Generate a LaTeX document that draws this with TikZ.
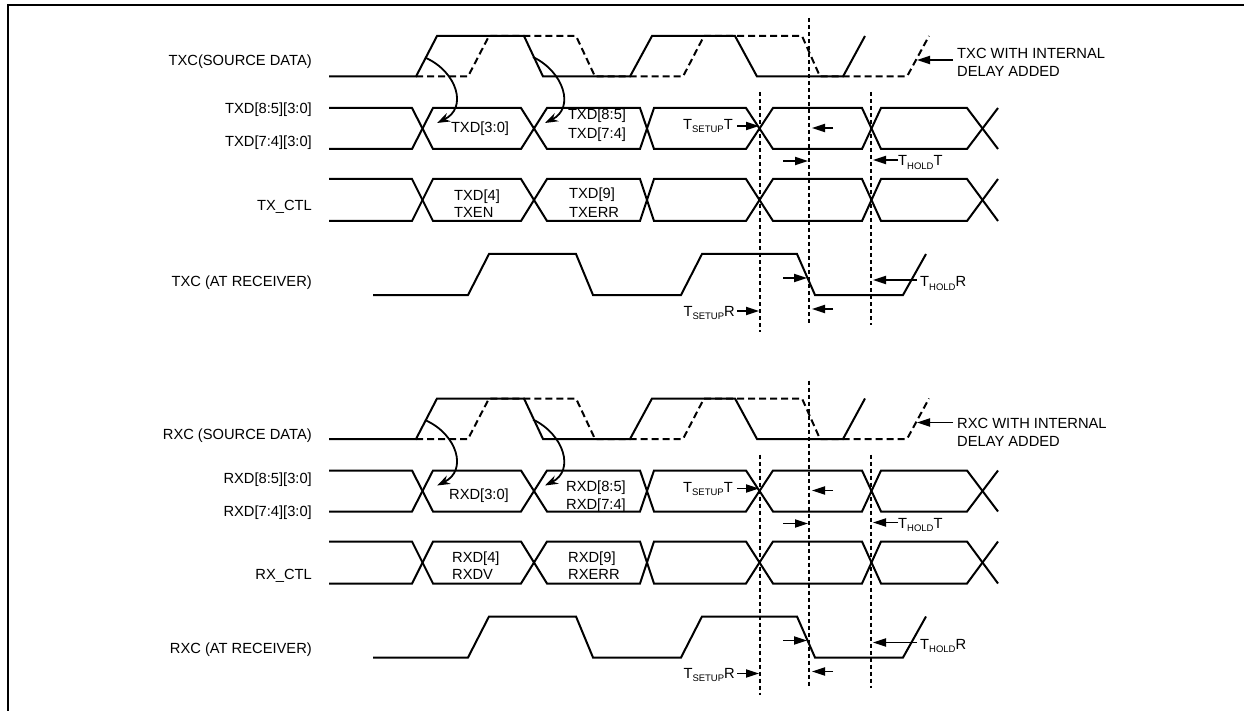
\documentclass[tikz,border=0pt]{standalone}
\usepackage{fontspec}
\setmainfont{Liberation Sans}
\usetikzlibrary{arrows.meta}
\newcommand\lblfont{\fontsize{14.7}{17}\selectfont}
\newcommand\subfnt{\fontsize{9.5}{10}\selectfont}
\newcommand\tsb[2]{T\raisebox{-3.2pt}{\subfnt #1}#2}
\tikzset{
  wave/.style={line width=2pt, line join=miter},
  dwave/.style={line width=2pt, dash pattern=on 7pt off 4pt},
  vguide/.style={line width=2pt, dash pattern=on 4pt off 3pt},
  lbl/.style={font=\lblfont, inner sep=0pt},
  tarr/.style={line width=1.8pt, -{Triangle[length=13pt,width=8pt]}},
  carr/.style={line width=1.8pt, -{Stealth[length=13pt,width=9pt]}},
}
\newcommand\drawbus[2]{%
  \draw[wave] (329,#1) -- (412,#1) -- (433,#2) -- (521,#2) -- (547,#1) -- (640,#1) -- (654,#2) -- (746,#2) -- (773,#1) -- (862,#1) -- (881,#2) -- (967,#2) -- (998,#1);
  \draw[wave] (329,#2) -- (412,#2) -- (433,#1) -- (521,#1) -- (547,#2) -- (640,#2) -- (654,#1) -- (746,#1) -- (773,#2) -- (862,#2) -- (881,#1) -- (967,#1) -- (998,#2);
}
\newcommand\waves{%
  % source clock (solid) and delayed clock (dashed)
  \draw[wave] (329,76.5) -- (416,76.5) -- (437,36) -- (524,36) -- (543,76.5) -- (630,76.5) -- (652,36) -- (735,36) -- (757,76.5) -- (843,76.5) -- (865,36);
  \draw[dwave] (416,76.5) -- (468,76.5) -- (489,36) -- (576,36) -- (595,76.5) -- (683,76.5) -- (704,36) -- (802,36) -- (820,76.5) -- (907,76.5) -- (929,36);
  % data bus and control
  \drawbus{108}{149}
  \drawbus{179}{221}
  % clock at receiver
  \draw[wave] (373,295) -- (468,295) -- (489,254) -- (576,254) -- (593,295) -- (681,295) -- (702,254) -- (797,254) -- (815,295) -- (903,295) -- (926,254);
  % guides
  \coordinate (g1t) at (760,92);  \coordinate (g1b) at (760,332);
  \coordinate (g2t) at (809,18);  \coordinate (g2b) at (809,325);
  \coordinate (g3t) at (871,92);  \coordinate (g3b) at (871,325);
  \draw[vguide] (g1t) -- (g1b);
  \draw[vguide] (g2t) -- (g2b);
  \draw[vguide] (g3t) -- (g3b);
  % curved launch arrows
  \coordinate (c1s) at (426,58);  \coordinate (c1e) at (437,123);
  \coordinate (c2s) at (533,57);  \coordinate (c2e) at (545,123);
  \draw[carr] (c1s) .. controls (457,72) and (468,108) .. (c1e);
  \draw[carr] (c2s) .. controls (564,72) and (575,108) .. (c2e);
  % delay pointer
  \coordinate (d1s) at (953,60); \coordinate (d1e) at (917,60);
  \draw[tarr] (d1s) -- (d1e);
  % setup / hold at transmitter
  \node[lbl, anchor=base east] (sT) at (733,129.5) {\tsb{SETUP}{T}};
  \coordinate (a1s) at (737,126); \coordinate (a1e) at (759,126);
  \draw[tarr] (a1s) -- (a1e);
  \coordinate (a2s) at (833,128); \coordinate (a2e) at (812,128);
  \draw[tarr] (a2s) -- (a2e);
  \coordinate (a3s) at (783,161); \coordinate (a3e) at (808,161);
  \draw[tarr] (a3s) -- (a3e);
  \coordinate (a4s) at (898,160); \coordinate (a4e) at (873,160);
  \draw[tarr] (a4s) -- (a4e);
  \node[lbl, anchor=base west] (hT) at (898,166) {\tsb{HOLD}{T}};
  % setup / hold at receiver
  \node[lbl, anchor=base east] (sR) at (735,316) {\tsb{SETUP}{R}};
  \coordinate (r1s) at (737,311); \coordinate (r1e) at (759,311);
  \draw[tarr] (r1s) -- (r1e);
  \coordinate (r2s) at (783,278); \coordinate (r2e) at (807,278);
  \draw[tarr] (r2s) -- (r2e);
  \coordinate (r3s) at (833,309); \coordinate (r3e) at (812,309);
  \draw[tarr] (r3s) -- (r3e);
  \coordinate (r4s) at (917,280); \coordinate (r4e) at (873,280);
  \draw[tarr] (r4s) -- (r4e);
  \node[lbl, anchor=base west] (hR) at (920,287) {\tsb{HOLD}{R}};
}
\begin{document}
\begin{tikzpicture}[x=1pt, y=-1pt]
  \useasboundingbox (0,0) rectangle (1244,711);
  % frame
  \draw[line width=2.8pt] (1244,5) -- (8,5) -- (8,711);

  % ---------- transmit section ----------
  \waves
  \node[lbl, anchor=base east] (l1) at (312,66) {TXC(SOURCE DATA)};
  \node[lbl, anchor=base east] (l2) at (312,113.5) {TXD[8:5][3:0]};
  \node[lbl, anchor=base east] (l3) at (312,147) {TXD[7:4][3:0]};
  \node[lbl, anchor=base east] (l4) at (312,211) {TX\_CTL};
  \node[lbl, anchor=base east] (l5) at (312,287) {TXC (AT RECEIVER)};
  \node[lbl, anchor=base] (t1) at (480,132.5) {TXD[3:0]};
  \node[lbl, anchor=base] (t2) at (597,119.5) {TXD[8:5]};
  \node[lbl, anchor=base] (t3) at (597,138.5) {TXD[7:4]};
  \node[lbl, anchor=base west] (t4) at (454,200.5) {TXD[4]};
  \node[lbl, anchor=base west] (t5) at (454,218) {TXEN};
  \node[lbl, anchor=base west] (t6) at (569,199) {TXD[9]};
  \node[lbl, anchor=base west] (t7) at (569,217.5) {TXERR};
  \node[lbl, anchor=base west] (t8) at (957,58.5) {TXC WITH INTERNAL};
  \node[lbl, anchor=base west] (t9) at (957,76.5) {DELAY ADDED};

  % ---------- receive section ----------
  \begin{scope}[shift={(0,362.5)}, name prefix=b-]
    \waves
  \end{scope}
  \node[lbl, anchor=base east] (m1) at (312,439) {RXC (SOURCE DATA)};
  \node[lbl, anchor=base east] (m2) at (312,483.5) {RXD[8:5][3:0]};
  \node[lbl, anchor=base east] (m3) at (312,516.5) {RXD[7:4][3:0]};
  \node[lbl, anchor=base east] (m4) at (312,579) {RX\_CTL};
  \node[lbl, anchor=base east] (m5) at (312,653) {RXC (AT RECEIVER)};
  \node[lbl, anchor=base] (s1) at (479,499) {RXD[3:0]};
  \node[lbl, anchor=base] (s2) at (596,491) {RXD[8:5]};
  \node[lbl, anchor=base] (s3) at (596,509.5) {RXD[7:4]};
  \node[lbl, anchor=base west] (s4) at (452,562.5) {RXD[4]};
  \node[lbl, anchor=base west] (s5) at (452,579.5) {RXDV};
  \node[lbl, anchor=base west] (s6) at (568,562.5) {RXD[9]};
  \node[lbl, anchor=base west] (s7) at (568,579.5) {RXERR};
  \node[lbl, anchor=base west] (s8) at (957,428) {RXC WITH INTERNAL};
  \node[lbl, anchor=base west] (s9) at (957,446) {DELAY ADDED};
\end{tikzpicture}
\end{document}
